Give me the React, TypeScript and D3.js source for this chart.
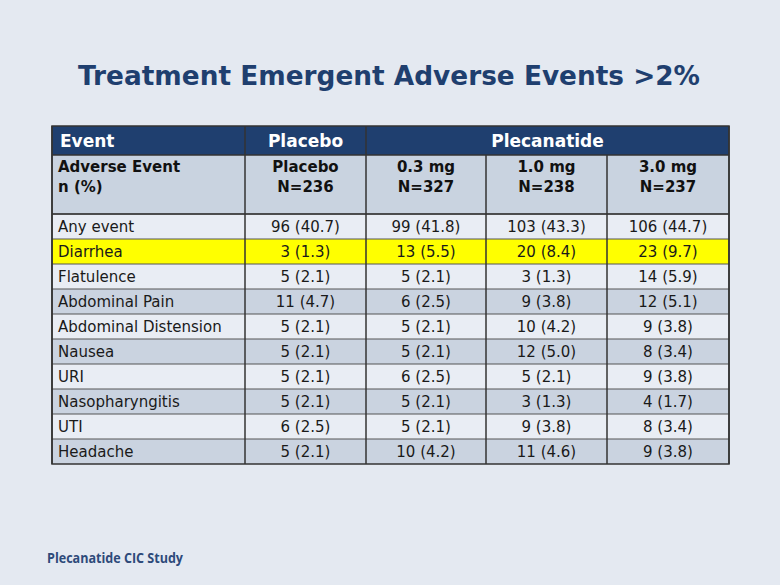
import React from "react";
import * as d3 from "d3";

const title = "Treatment Emergent Adverse Events >2%";
const footer = "Plecanatide CIC Study";
const groupHeaders = ["Event", "Placebo", "Plecanatide"];
const subHeaderLine1 = ["Adverse Event", "Placebo", "0.3 mg", "1.0 mg", "3.0 mg"];
const subHeaderLine2 = ["n (%)", "N=236", "N=327", "N=238", "N=237"];
const events = [
  "Any event",
  "Diarrhea",
  "Flatulence",
  "Abdominal Pain",
  "Abdominal Distension",
  "Nausea",
  "URI",
  "Nasopharyngitis",
  "UTI",
  "Headache",
];
const placebo = ["96 (40.7)", "3 (1.3)", "5 (2.1)", "11 (4.7)", "5 (2.1)", "5 (2.1)", "5 (2.1)", "5 (2.1)", "6 (2.5)", "5 (2.1)"];
const dose03 = ["99 (41.8)", "13 (5.5)", "5 (2.1)", "6 (2.5)", "5 (2.1)", "5 (2.1)", "6 (2.5)", "5 (2.1)", "5 (2.1)", "10 (4.2)"];
const dose10 = ["103 (43.3)", "20 (8.4)", "3 (1.3)", "9 (3.8)", "10 (4.2)", "12 (5.0)", "5 (2.1)", "3 (1.3)", "9 (3.8)", "11 (4.6)"];
const dose30 = ["106 (44.7)", "23 (9.7)", "14 (5.9)", "12 (5.1)", "9 (3.8)", "8 (3.4)", "9 (3.8)", "4 (1.7)", "8 (3.4)", "9 (3.8)"];
const highlighted = ["Diarrhea"];

const colEdges = [52, 245, 366, 486, 607, 729];
const font = "'DejaVu Sans', Verdana, sans-serif";
const navy = "#1f3f6f";

export default function App() {
  const cols = [0, 1, 2, 3, 4];
  const rowScale = d3.scaleBand<string>().domain(events).range([214, 464]).paddingInner(0).paddingOuter(0);
  const columns = [placebo, dose03, dose10, dose30];
  const headerTop = 126;
  const headerBottom = 155;
  const subBottom = 214;
  const left = colEdges[0];
  const right = colEdges[5];
  const colCenter = (i: number) => (colEdges[i] + colEdges[i + 1]) / 2;

  return (
    <svg width={780} height={585} style={{ position: "absolute", left: 0, top: 0 }}>
      <rect x={0} y={0} width={780} height={585} fill="#e4e9f1" />
      <text x={389} y={85} textAnchor="middle" fontFamily={font} fontWeight="bold" fontSize={26.5} fill={navy} textLength={622} lengthAdjust="spacingAndGlyphs">
        {title}
      </text>

      {/* header group row */}
      <rect x={left} y={headerTop} width={right - left} height={headerBottom - headerTop} fill={navy} />
      <text x={60} y={147} fontFamily={font} fontWeight="bold" fontSize={17} fill="#fff">{groupHeaders[0]}</text>
      <text x={colCenter(1)} y={147} textAnchor="middle" fontFamily={font} fontWeight="bold" fontSize={17} fill="#fff">{groupHeaders[1]}</text>
      <text x={(colEdges[2] + colEdges[5]) / 2} y={147} textAnchor="middle" fontFamily={font} fontWeight="bold" fontSize={17} fill="#fff">{groupHeaders[2]}</text>

      {/* sub header */}
      <rect x={left} y={headerBottom} width={right - left} height={subBottom - headerBottom} fill="#c9d3e0" />
      {cols.map((c) => (
        <g key={"sh" + c}>
          <text x={c === 0 ? 58 : colCenter(c)} y={172} textAnchor={c === 0 ? "start" : "middle"} fontFamily={font} fontWeight="bold" fontSize={15} fill="#111">
            {subHeaderLine1[c]}
          </text>
          <text x={c === 0 ? 58 : colCenter(c)} y={192} textAnchor={c === 0 ? "start" : "middle"} fontFamily={font} fontWeight="bold" fontSize={15} fill="#111">
            {subHeaderLine2[c]}
          </text>
        </g>
      ))}

      {/* body rows */}
      {events.map((ev, i) => {
        const y = rowScale(ev) as number;
        const h = rowScale.bandwidth();
        const fill = highlighted.includes(ev) ? "#ffff00" : i % 2 === 0 ? "#e9edf4" : "#cad3e0";
        return (
          <g key={ev}>
            <rect x={left} y={y} width={right - left} height={h} fill={fill} />
            <text x={58} y={y + h / 2 + 5} fontFamily={font} fontSize={15} fill="#1a1a1a">{ev}</text>
            {columns.map((col, j) => (
              <text key={j} x={colCenter(j + 1)} y={y + h / 2 + 5} textAnchor="middle" fontFamily={font} fontSize={15} fill="#1a1a1a">
                {col[i]}
              </text>
            ))}
            <line x1={left} x2={right} y1={y} y2={y} stroke="#555" strokeWidth={1} />
          </g>
        );
      })}

      {/* vertical lines */}
      {colEdges.map((x, i) => (
        <line key={"v" + i} x1={x} x2={x} y1={i === 3 || i === 4 ? headerBottom : headerTop} y2={464} stroke="#333" strokeWidth={1.5} />
      ))}
      <line x1={left} x2={right} y1={headerBottom} y2={headerBottom} stroke="#333" strokeWidth={1.5} />
      <line x1={left} x2={right} y1={subBottom} y2={subBottom} stroke="#333" strokeWidth={1.5} />
      <rect x={left} y={headerTop} width={right - left} height={464 - headerTop} fill="none" stroke="#333" strokeWidth={1.5} />

      <text x={47} y={563} fontFamily="'Open Sans', 'Liberation Sans', sans-serif" fontWeight="bold" fontSize={13.5} fill="#2d4a7a" textLength={136} lengthAdjust="spacingAndGlyphs">
        {footer}
      </text>
    </svg>
  );
}
